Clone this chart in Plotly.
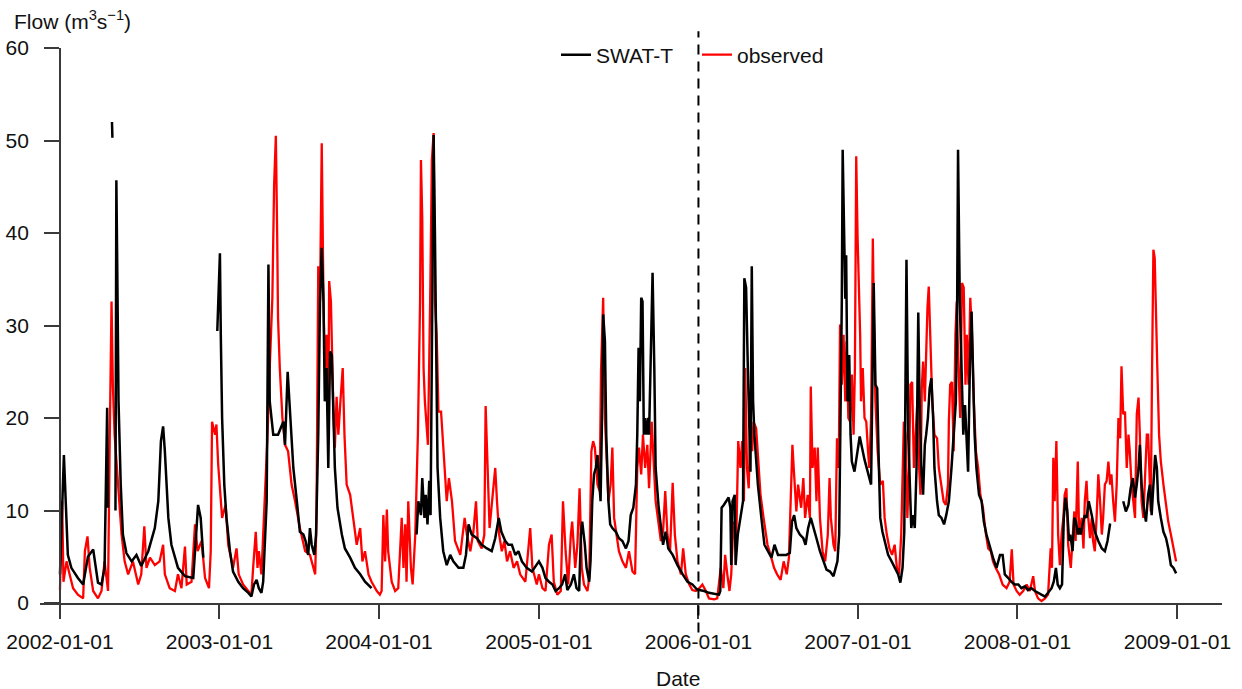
import pandas as pd
import plotly.graph_objects as go

# Daily flow record, 2002-01-01 .. 2008-12-31, given as day number since the start date.
START = pd.Timestamp("2002-01-01")

# SWAT-T simulated flow (m3/s); None marks missing days
sim_day = [
    0, 9, 18, 26, 41, 53, 64, 76, 87, 95, 102, 108, 110, 111, 119, 120, 121, 127, 129, 131,
    134, 139, 144, 152, 164, 175, 186, 202, 217, 225, 231, 236, 240, 248, 255, 270, 286, 305,
    312, 316, 322, 328, 329, 360,
    366, 368, 371, 376, 381, 389, 396, 408, 419, 431, 438, 444, 450, 455, 461, 465, 469, 473,
    477, 480, 488, 499, 511, 515, 521, 525, 529, 534, 542, 549, 557, 562, 568, 572, 576, 582,
    586, 591, 595, 599, 603, 606, 610, 614, 618, 622, 626, 629, 635, 645, 652, 664, 675, 687,
    698, 713, 714,
    816, 820, 826, 829, 834, 837, 841, 845, 848, 851, 853, 855, 858, 861, 864, 870, 877, 885,
    893, 900, 912, 923, 929, 935, 942, 954, 965, 977, 988, 996, 1004, 1010, 1019, 1026, 1034,
    1042, 1049, 1057, 1068, 1080, 1091,
    1096, 1104, 1111, 1119, 1127, 1134, 1142, 1149, 1156, 1161, 1169, 1176, 1182, 1188, 1192,
    1195, 1201, 1205, 1211, 1214, 1218, 1222, 1226, 1230, 1234, 1237, 1241, 1243, 1247, 1250,
    1255, 1259, 1264, 1272, 1279, 1287, 1295, 1301, 1306, 1312, 1318, 1321, 1324, 1327, 1330,
    1333, 1336, 1339, 1342, 1346, 1348, 1352, 1356, 1360, 1363, 1370, 1375, 1380, 1386, 1392,
    1402, 1413, 1425, 1436, 1447, 1459,
    1463, 1474, 1485, 1497, 1508, 1511, 1514, 1519, 1524, 1530, 1534, 1536, 1539, 1544, 1546,
    1551, 1557, 1563, 1566, 1570, 1574, 1578, 1580, 1583, 1586, 1589, 1597, 1605, 1612, 1620,
    1628, 1635, 1643, 1654, 1662, 1670, 1675, 1680, 1685, 1693, 1701, 1706, 1712, 1718, 1724,
    1731, 1739, 1747, 1754, 1762, 1770, 1775, 1779, 1783, 1786, 1789, 1791, 1794, 1797, 1799,
    1802, 1806, 1809, 1812, 1818,
    1830, 1841, 1856, 1862, 1866, 1870, 1873, 1877, 1882, 1887, 1895, 1903, 1910, 1918, 1923,
    1928, 1932, 1935, 1937, 1941, 1945, 1948, 1952, 1956, 1960, 1964, 1967, 1971, 1975, 1979,
    1982, 1986, 1990, 1994, 1998, 2001, 2007, 2011, 2017, 2023, 2028, 2034, 2040, 2045, 2050,
    2053, 2055, 2059, 2063, 2067, 2071, 2074, 2078, 2082, 2086, 2090, 2093, 2097, 2103, 2109,
    2114, 2120, 2128, 2135, 2143, 2151, 2157, 2162, 2170, 2177, 2185,
    2193, 2200, 2208, 2215, 2223, 2231, 2238, 2246, 2254, 2261, 2269, 2274, 2279, 2283, 2288,
    2293, 2297, 2301, 2305, 2309, 2312, 2317, 2321, 2325, 2329, 2332, 2336, 2340, 2345, 2349,
    2354, 2361, 2368, 2376, 2384, 2391, 2397, 2403, 2404,
    2433, 2439, 2445, 2450, 2455, 2460, 2464, 2468, 2471, 2475, 2481, 2485, 2490, 2494, 2498,
    2502, 2506, 2510, 2513, 2519, 2525, 2531, 2536, 2542, 2548, 2554,
]
sim_flow = [
    3.1, 16.0, 5.2, 3.8, 2.7, 2.0, 5.0, 5.8, 2.2, 2.0, 3.8, 21.1, 10.3, None, 52.0, 50.3, None, 10.0, 45.7, 36.6,
    21.8, 12.8, 7.4, 5.4, 4.5, 5.2, 4.0, 5.6, 8.1, 11.0, 17.5, 19.1, 16.4, 9.2, 6.3, 3.8, 2.9, 2.7,
    7.4, 10.6, 9.2, 4.9, None, 29.4,
    37.8, 29.0, 20.0, 12.8, 9.2, 5.6, 3.4, 2.3, 1.6, 1.1, 0.7, 2.0, 2.5, 1.6, 1.1, 2.3, 7.4, 11.0,
    36.6, 21.8, 18.2, 18.2, 19.6, 17.1, 25.0, 21.8, 19.6, 14.6, 11.0, 7.7, 7.4, 6.7, 5.2, 8.1, 6.3, 5.2,
    7.4, 18.2, 32.6, 38.4, 32.6, 21.8, 25.4, 14.6, 27.2, 26.8, 20.0, 14.6, 10.3, 7.4, 5.9, 4.9, 3.8, 3.1,
    2.3, 1.6, None,
    7.4, 11.0, 9.5, 13.5, 9.2, 11.7, 8.5, 13.2, 9.5, 29.0, 45.2, 50.6, 39.8, 23.6, 14.6, 9.2, 5.6, 4.1,
    5.2, 4.5, 3.8, 3.8, 5.2, 8.5, 7.4, 7.0, 6.3, 5.9, 5.6, 7.0, 9.2, 7.7, 6.7, 6.3, 6.3,
    5.2, 5.6, 4.5, 3.8, 3.4, 4.1,
    4.5, 3.8, 2.7, 2.3, 2.0, 1.3, 1.6, 2.0, 3.1, 1.4, 2.0, 3.1, 1.6, 1.3, 7.4,
    8.8, 6.3, 3.8, 2.3, 4.5, 11.0, 13.9, 14.6, 16.0, 13.5, 11.0, 21.8, 31.2, 28.3, 18.2,
    11.0, 8.5, 8.1, 7.7, 7.0, 6.7, 5.9, 6.7, 9.5, 10.3, 12.8, 18.2, 27.6, 21.8, 33.0,
    32.6, 18.2, 20.0, 18.2, 20.0, 18.2, 27.2, 35.7, 25.4, 14.6, 10.3, 8.1, 6.3, 7.7, 5.9,
    5.2, 4.1, 3.1, 2.3, 2.0, 1.4,
    1.4, 1.3, 1.1, 1.0, 0.9, 1.3, 10.3, 10.6, 11.0, 11.4, 10.3, 4.1, 11.0, 11.7, 4.1,
    7.4, 9.2, 11.0, 35.1, 34.1, 25.4, 18.2, 14.2, 36.4, 21.8, 18.2, 12.8, 9.2, 6.3, 5.6,
    4.9, 6.3, 5.2, 5.2, 5.2, 5.4, 8.8, 9.5, 8.1, 7.4, 7.0, 6.3, 8.1, 9.2, 8.3,
    7.0, 5.6, 4.5, 3.6, 3.4, 2.9, 3.8, 4.5, 7.4, 18.2, 32.6, 49.0, 38.0, 32.9, 37.6,
    21.8, 26.8, 18.2, 15.3, 14.2,
    18.0, 15.5, 12.8, 34.6, 23.6, 23.2, 16.4, 9.2, 7.7, 6.7, 5.2, 4.5, 3.8, 3.1, 2.2,
    3.8, 7.7, 25.4, 37.1, 18.2, 11.0, 8.1, 9.5, 8.1, 14.6, 31.4, 21.8, 14.6, 11.7, 17.1,
    18.2, 20.0, 23.2, 24.3, 20.0, 14.6, 11.0, 9.5, 9.2, 8.5, 9.5, 11.0, 14.6, 18.2, 21.8,
    32.6, 49.0, 32.6, 23.6, 18.2, 21.4, 18.2, 14.2, 25.4, 31.5, 23.6, 18.2, 14.6, 11.7, 11.0,
    8.8, 7.4, 5.9, 4.9, 3.8, 5.2, 5.2, 3.1, 2.7, 2.3, 2.0,
    2.0, 1.6, 1.8, 1.4, 1.6, 1.3, 1.1, 0.9, 0.7, 1.1, 1.6, 2.3, 3.8, 2.0, 1.6,
    2.0, 9.2, 11.4, 9.9, 6.7, 7.4, 5.6, 9.2, 8.8, 7.4, 8.1, 7.4, 8.5, 9.5, 9.2,
    11.0, 9.5, 7.7, 6.7, 5.9, 5.6, 6.7, 8.6, None,
    11.0, 9.9, 10.6, 12.4, 13.5, 11.4, 12.8, 14.6, 17.1, 12.8, 9.9, 8.8, 11.7, 12.8, 9.5,
    12.8, 16.0, 14.6, 11.0, 9.2, 7.7, 7.0, 5.9, 4.1, 3.8, 3.2,
]

# Observed flow (m3/s)
obs_day = [
    0, 5, 8, 15, 22, 30, 41, 53, 57, 63, 68, 76, 87, 95, 102, 110, 114, 118, 121, 125,
    133, 141, 148, 156, 167, 179, 186, 193, 198, 206, 217, 228, 236, 240, 251, 263, 270, 278,
    286, 290, 301, 309, 315, 324, 332, 341, 345, 348, 355, 358,
    362, 366, 371, 379, 385, 396, 404, 409, 419, 431, 438, 442, 448, 452, 455, 461, 469, 475,
    480, 486, 490, 494, 497, 499, 503, 509, 515, 522, 530, 538, 549, 561, 572, 580, 584, 587,
    591, 595, 599, 603, 606, 610, 614, 616, 620, 626, 629, 633, 637, 642, 647, 651, 656, 664,
    671, 679, 687, 692, 698, 706, 713, 725,
    732, 736, 740, 744, 748, 751, 759, 767, 774, 782, 786, 790, 793, 797, 803, 807, 813, 819,
    824, 826, 829, 832, 835, 842, 847, 851, 855, 858, 862, 866, 872, 877, 885, 890, 897, 904,
    916, 926, 931, 939, 946, 952, 956, 965, 971, 974, 978, 983, 988, 996, 1000, 1005, 1011,
    1017, 1023, 1030, 1038, 1046, 1053, 1065, 1076, 1081, 1091,
    1096, 1104, 1111, 1119, 1125, 1130, 1138, 1146, 1151, 1157, 1163, 1169, 1172, 1179, 1184,
    1189, 1194, 1199, 1207, 1211, 1216, 1220, 1224, 1230, 1235, 1238, 1243, 1247, 1251, 1255,
    1260, 1264, 1268, 1273, 1279, 1287, 1295, 1302, 1310, 1316, 1321, 1325, 1330, 1334, 1339,
    1344, 1348, 1354, 1360, 1363, 1370, 1375, 1380, 1385, 1390, 1396, 1402, 1407, 1413, 1421,
    1426, 1432, 1440, 1447, 1455,
    1463, 1470, 1478, 1485, 1497, 1504, 1512, 1518, 1522, 1527, 1532, 1536, 1541, 1544, 1547,
    1552, 1557, 1561, 1565, 1568, 1572, 1576, 1580, 1584, 1587, 1593, 1597, 1603, 1610, 1619,
    1626, 1634, 1641, 1649, 1656, 1663, 1668, 1672, 1676, 1679, 1685, 1689, 1696, 1701, 1705,
    1711, 1716, 1718, 1722, 1727, 1731, 1734, 1739, 1745, 1751, 1757, 1761, 1764, 1770, 1774,
    1778, 1782, 1785, 1789, 1793, 1797, 1800, 1804, 1808, 1812, 1816, 1819, 1822, 1825, 1828,
    1831,
    1833, 1837, 1841, 1845, 1849, 1852, 1856, 1860, 1863, 1866, 1871, 1877, 1883, 1887, 1892,
    1898, 1904, 1910, 1915, 1920, 1925, 1928, 1931, 1935, 1939, 1943, 1946, 1950, 1954, 1958,
    1962, 1966, 1969, 1972, 1975, 1979, 1982, 1985, 1988, 1991, 1996, 2001, 2007, 2011, 2017,
    2022, 2027, 2032, 2034, 2037, 2041, 2045, 2049, 2052, 2056, 2060, 2064, 2068, 2072, 2075,
    2079, 2083, 2087, 2091, 2096, 2101, 2106, 2112, 2118, 2124, 2130, 2135, 2141, 2149, 2157,
    2166, 2173, 2178, 2182,
    2189, 2196, 2204, 2212, 2219, 2227, 2231, 2238, 2246, 2254, 2261, 2267, 2270, 2273, 2276,
    2280, 2284, 2288, 2292, 2296, 2299, 2303, 2307, 2313, 2317, 2321, 2324, 2329, 2332, 2338,
    2342, 2345, 2349, 2353, 2357, 2361, 2364, 2368, 2372, 2376, 2380, 2384, 2387, 2391, 2395,
    2399, 2403, 2406, 2410, 2414, 2418, 2422, 2426, 2429, 2433, 2437, 2441, 2445, 2448, 2452,
    2456, 2460, 2464, 2468, 2471, 2475, 2479, 2483, 2487, 2490, 2493, 2496, 2499, 2502, 2505,
    2508, 2511, 2515, 2519, 2525, 2531, 2536, 2542, 2548, 2554,
]
obs_flow = [
    1.4, 11.0, 2.3, 4.5, 3.1, 1.6, 0.9, 0.5, 5.6, 7.2, 3.8, 1.3, 0.5, 1.3, 4.5, 1.3, 18.2, 32.6, 23.6, 18.2,
    12.8, 7.4, 4.5, 3.1, 4.5, 2.0, 3.1, 8.3, 3.8, 4.9, 4.1, 4.5, 6.3, 3.1, 1.6, 1.3, 3.1, 1.6,
    6.1, 2.0, 2.3, 8.5, 5.6, 6.7, 2.7, 1.6, 5.6, 19.6, 18.2, 19.3,
    15.0, 12.8, 9.2, 10.6, 6.3, 3.8, 5.9, 3.1, 2.0, 1.3, 0.9, 3.8, 7.7, 3.8, 5.6, 3.1, 11.0, 18.2,
    25.4, 33.0, 45.2, 50.5, 39.8, 30.8, 25.4, 20.0, 17.1, 16.4, 12.8, 11.0, 8.1, 5.6, 5.2, 3.8, 3.1, 9.2,
    36.4, 32.6, 49.7, 32.6, 25.4, 29.0, 20.0, 34.8, 32.6, 20.0, 16.8, 22.3, 18.2, 22.0, 25.4, 18.2, 12.8, 11.7,
    9.2, 6.3, 8.1, 4.5, 5.6, 3.1, 2.3, 1.3,
    0.9, 1.3, 9.5, 4.5, 10.1, 5.6, 2.3, 1.3, 1.6, 9.2, 3.8, 8.5, 2.3, 11.0, 3.8, 2.0, 7.4, 18.2,
    32.6, 47.9, 41.6, 25.4, 21.8, 17.1, 32.6, 47.9, 50.8, 32.6, 29.0, 20.7, 20.7, 16.4, 11.0, 13.5, 11.0, 6.7,
    5.2, 9.2, 7.4, 5.6, 7.7, 11.0, 6.7, 5.9, 7.4, 21.3, 14.6, 8.1, 10.6, 14.6, 11.0, 7.4, 5.6,
    6.7, 4.5, 5.6, 3.8, 4.5, 3.1, 2.3, 8.1, 3.8, 2.0,
    3.1, 1.6, 1.3, 6.3, 7.4, 2.3, 0.9, 1.3, 11.0, 5.6, 2.0, 7.4, 8.8, 3.8, 6.3,
    12.4, 3.8, 2.0, 1.3, 2.7, 16.4, 17.5, 16.8, 12.8, 12.1, 25.0, 33.0, 20.0, 14.6, 11.0,
    12.8, 16.8, 9.2, 7.4, 5.6, 4.5, 3.8, 5.6, 3.4, 3.1, 14.6, 16.8, 13.9, 18.2, 14.6,
    17.1, 12.4, 19.6, 14.6, 11.0, 8.5, 6.7, 7.7, 12.1, 7.4, 5.6, 13.0, 7.4, 4.5, 3.1,
    5.9, 3.1, 2.0, 1.4, 1.3,
    1.6, 2.0, 1.3, 0.5, 0.4, 0.5, 3.8, 1.6, 5.2, 3.1, 1.3, 3.1, 8.8, 7.4, 5.6,
    17.5, 14.6, 17.5, 11.0, 25.4, 14.6, 12.4, 20.0, 16.4, 19.6, 18.9, 16.4, 11.7, 9.2, 6.3,
    5.2, 3.8, 3.1, 2.5, 4.5, 3.1, 4.9, 11.0, 17.1, 14.6, 9.9, 12.8, 10.3, 13.5, 9.2,
    11.7, 9.2, 23.4, 14.6, 16.8, 11.0, 16.8, 9.2, 5.6, 4.5, 7.4, 13.5, 9.2, 6.3, 5.6,
    17.8, 14.6, 30.1, 23.6, 29.0, 21.8, 28.3, 20.0, 19.6, 24.7, 18.2, 25.4, 48.3, 39.8, 34.1,
    29.0,
    21.8, 25.4, 20.0, 19.6, 16.4, 14.6, 20.0, 39.4, 29.0, 21.8, 16.4, 12.8, 13.2, 9.2, 7.4,
    5.9, 5.2, 6.3, 3.8, 3.1, 7.4, 14.6, 19.6, 18.2, 9.2, 14.6, 23.6, 23.9, 14.6, 18.2,
    21.8, 14.6, 11.7, 23.2, 26.1, 21.8, 27.6, 31.9, 34.2, 29.0, 21.8, 18.2, 17.8, 14.6, 12.8,
    11.0, 10.6, 12.8, 19.6, 23.6, 23.9, 16.4, 29.0, 32.6, 25.4, 20.0, 34.6, 34.1, 23.6, 29.0,
    23.6, 33.0, 29.0, 21.8, 16.4, 14.6, 11.7, 10.3, 7.7, 5.9, 5.6, 4.5, 3.8, 3.1, 2.0,
    1.6, 2.3, 5.8, 2.0,
    1.3, 0.9, 1.3, 2.0, 1.3, 2.9, 1.3, 0.5, 0.2, 0.5, 0.9, 5.9, 3.8, 15.7, 11.0,
    17.5, 7.4, 4.1, 7.4, 9.2, 11.7, 12.4, 6.3, 3.8, 7.4, 9.9, 6.7, 15.3, 7.4, 9.2,
    5.9, 11.0, 13.2, 9.2, 7.0, 9.2, 6.7, 5.6, 9.2, 13.9, 11.0, 7.4, 9.2, 12.8, 13.2,
    15.3, 12.8, 13.9, 11.0, 8.8, 12.8, 20.0, 17.8, 25.6, 20.4, 20.7, 14.6, 18.2, 16.4, 12.8,
    11.0, 9.2, 20.4, 22.2, 18.2, 11.0, 9.2, 14.6, 18.2, 18.2, 12.8, 9.9, 25.4, 38.2, 37.3,
    32.6, 25.4, 18.2, 15.3, 12.8, 10.3, 8.8, 7.4, 5.9, 4.5,
]

year_ticks = ["2002-01-01", "2003-01-01", "2004-01-01", "2005-01-01",
              "2006-01-01", "2007-01-01", "2008-01-01", "2009-01-01"]
y_ticks = [0, 10, 20, 30, 40, 50, 60]
split_date = "2006-01-01"  # start of the validation period

assert len(sim_day) == len(sim_flow)
assert len(obs_day) == len(obs_flow)


def to_dates(days):
    return [START + pd.Timedelta(days=int(d)) for d in days]


FONT = "Liberation Sans, Arial, sans-serif"
AXIS_COLOR = "#3a3a3a"

# figure geometry (pixels)
W, H = 1242, 689
ML, MR, MT, MB = 40, 20, 20, 40
plot_w = W - ML - MR
plot_h = H - MT - MB
y0_px, y60_px = 603, 48  # vertical positions of flow 0 and 60
dom = [(H - MB - y0_px) / plot_h, (H - MB - y60_px) / plot_h]

# the date axis runs a little past the first and last year marks
x_min = pd.Timestamp("2002-01-01") - pd.Timedelta(days=45.7)
x_max = pd.Timestamp("2009-01-01") + pd.Timedelta(days=102)
y_axis_pos = (pd.Timestamp(year_ticks[0]) - x_min) / (x_max - x_min)

# second vertical scale spanning the whole plot height, same units as the flow axis
units_per_frac = 60 / (dom[1] - dom[0])
y2_range = [-dom[0] * units_per_frac, 60 + (1 - dom[1]) * units_per_frac]

fig = go.Figure()

fig.add_trace(go.Scatter(
    x=to_dates(obs_day), y=obs_flow, mode="lines", name="observed",
    line=dict(color="#ff0000", width=2.3), legendrank=2,
))
fig.add_trace(go.Scatter(
    x=to_dates(sim_day), y=sim_flow, mode="lines", name="SWAT-T",
    line=dict(color="#000000", width=2.5), legendrank=1,
))
# calibration / validation split
fig.add_trace(go.Scatter(
    x=[split_date, split_date], y=[-3.2, 61.8], mode="lines",
    line=dict(color="#000000", width=2, dash="10px,7px"),
    yaxis="y2", showlegend=False, hoverinfo="skip",
))

fig.update_layout(
    width=W, height=H,
    margin=dict(l=ML, r=MR, t=MT, b=MB, autoexpand=False),
    paper_bgcolor="white", plot_bgcolor="rgba(0,0,0,0)",
    font=dict(family=FONT, size=21, color="#111111"),
    showlegend=True,
    legend=dict(
        orientation="h", x=(556 - ML) / plot_w, xanchor="left",
        y=(H - MB - 55) / plot_h, yanchor="middle",
        bgcolor="rgba(0,0,0,0)", font=dict(size=21),
        entrywidth=96, entrywidthmode="pixels", traceorder="normal",
    ),
    xaxis=dict(
        type="date", range=[x_min, x_max], anchor="y", automargin=False,
        showline=True, linecolor=AXIS_COLOR, linewidth=1.6,
        showgrid=False, zeroline=False,
        tickmode="array", tickvals=year_ticks, ticktext=year_ticks,
        ticks="outside", ticklen=14, tickwidth=1.6, tickcolor=AXIS_COLOR,
        tickfont=dict(size=21), ticklabelstandoff=5,
    ),
    yaxis=dict(
        range=[0, 60], domain=dom, anchor="free", position=y_axis_pos, automargin=False,
        showline=True, linecolor=AXIS_COLOR, linewidth=1.6,
        showgrid=False, zeroline=False,
        tickmode="array", tickvals=y_ticks,
        ticks="outside", ticklen=15, tickwidth=1.6, tickcolor=AXIS_COLOR,
        tickfont=dict(size=21), ticklabelstandoff=11,
    ),
    yaxis2=dict(
        range=y2_range, domain=[0, 1], anchor="x", visible=False, automargin=False,
        showgrid=False, zeroline=False,
    ),
    annotations=[
        dict(text="Flow (m<sup>3</sup>s<sup>\u22121</sup>)", xref="paper", yref="paper",
             x=(12 - ML) / plot_w, y=(H - MB - 20) / plot_h,
             xanchor="left", yanchor="middle", showarrow=False, font=dict(size=21)),
        dict(text="Date", xref="paper", yref="paper",
             x=(678 - ML) / plot_w, y=(H - MB - 678) / plot_h,
             xanchor="center", yanchor="middle", showarrow=False, font=dict(size=21)),
    ],
)

fig.write_html("out.html")
